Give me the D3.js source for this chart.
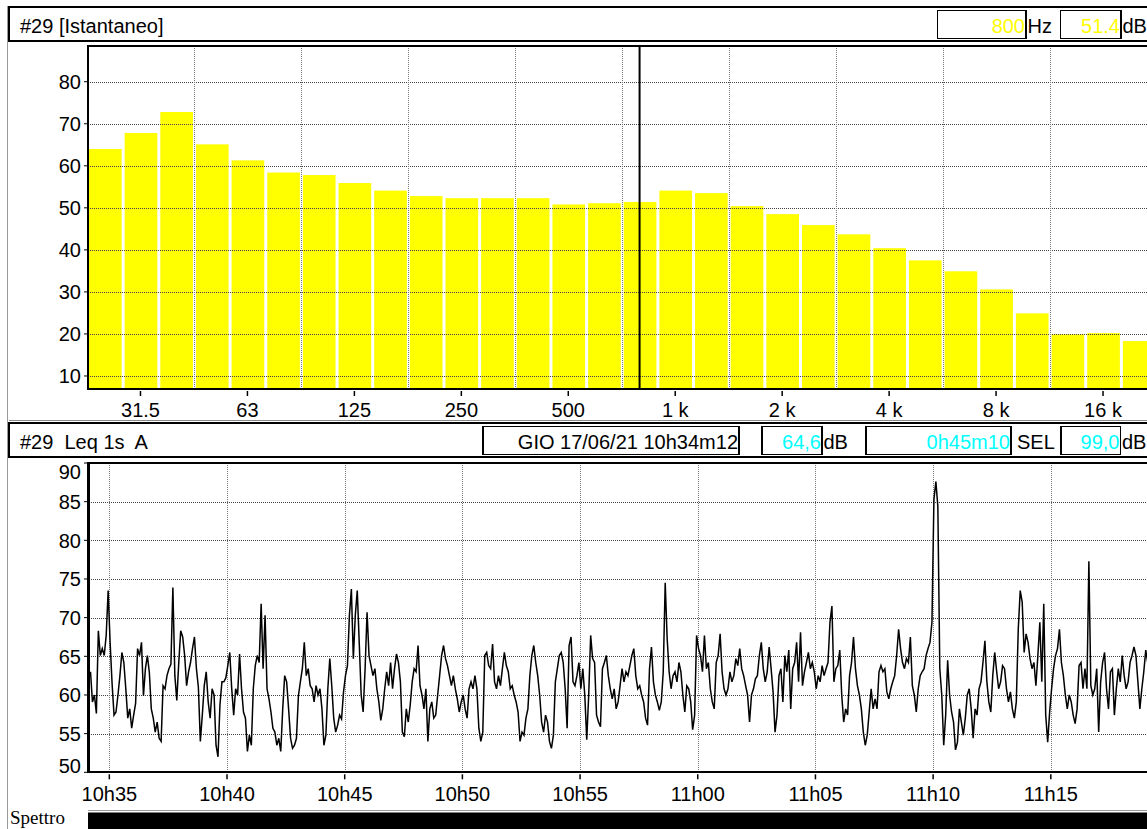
<!DOCTYPE html>
<html>
<head>
<meta charset="utf-8">
<script src="https://cdn.jsdelivr.net/npm/d3@7"></script>
<style>
  html, body { margin: 0; padding: 0; background: #fff; overflow: hidden; }
  svg { display: block; font-family: Arial, "Liberation Sans", sans-serif; }
  .grid line { stroke: #444; stroke-dasharray: 1 1; shape-rendering: crispEdges; }
  .frame { stroke: #000; fill: none; shape-rendering: crispEdges; }
</style>
</head>
<body>
<svg id="chart" width="1147" height="829"></svg>
<script>
// --- spectrum (1/3 octave, instantaneous) ---
const bandLabels = ["25", "31.5", "40", "50", "63", "80", "100", "125", "160", "200",
  "250", "315", "400", "500", "630", "800", "1 k", "1.25 k", "1.6 k", "2 k",
  "2.5 k", "3.15 k", "4 k", "5 k", "6.3 k", "8 k", "10 k", "12.5 k", "16 k", "20 k"];
const bandLevels = [64.0, 67.8, 72.8, 65.1, 61.3, 58.4, 57.8, 55.9, 54.1, 52.8,
  52.3, 52.3, 52.3, 50.8, 51.1, 51.4, 54.1, 53.5, 50.4, 48.5,
  45.9, 43.7, 40.4, 37.5, 34.9, 30.6, 24.9, 19.9, 20.2, 18.3];
const spectrumTicks = ["31.5", "63", "125", "250", "500", "1 k", "2 k", "4 k", "8 k", "16 k"];
const spectrumYTicks = [10, 20, 30, 40, 50, 60, 70, 80];
const cursorBand = "800";
const cursorLevel = "51.4";

// --- Leq 1s A time history (read every 5 s) ---
const startTime = new Date(2021, 5, 17, 10, 34, 12);
const durationSec = 2710;
const stepSec = 5;
const leqYTicks = [50, 55, 60, 65, 70, 75, 80, 85, 90];
const leqPart1 = [
  63.0, 59.1, 60.0, 57.6, 68.3, 65.1, 66.0, 65.1, 67.7, 73.5, 66.8, 61.5, 57.4, 57.8, 60.0, 62.5, 65.5,
  64.2, 60.8, 57.0, 58.2, 55.7, 57.4, 58.9, 66.0, 65.1, 66.8, 59.9, 63.4, 65.1, 62.9, 58.2, 57.0, 55.2,
  56.5, 54.4, 54.0, 61.2, 60.8, 62.5, 63.4, 64.0, 73.9, 62.5, 59.3, 64.2, 68.3, 67.5, 65.1, 61.2, 63.0,
  64.2, 66.0, 67.5, 63.4, 61.0, 54.0, 57.4, 61.2, 63.0, 59.1, 57.0, 60.8, 60.0, 53.5, 52.0, 58.7, 61.7,
  61.7, 62.2, 63.8, 65.5, 60.8, 57.4, 60.8, 60.0, 65.3, 60.8, 57.8, 57.0, 52.7, 54.8, 53.5, 60.8, 63.8,
  65.1, 64.2, 71.8, 63.4, 70.3, 60.8, 59.5, 57.8, 55.7, 55.2, 53.5, 54.4, 52.7, 58.2, 62.5, 61.7, 58.2,
  54.4, 53.1, 53.5, 54.4, 59.9, 61.7, 63.4, 66.8, 62.5, 63.4, 61.2, 60.8, 59.1, 61.2, 60.0, 60.8, 58.2,
  53.5, 54.8, 60.8, 64.7, 61.2, 57.0, 55.2, 56.1, 57.4, 56.9, 60.4, 62.5, 63.8, 70.3, 73.7, 64.7, 70.3,
  73.5, 66.8, 60.0, 57.8, 63.4, 70.7, 65.1, 63.8, 62.5, 63.4, 60.8, 59.1, 56.7, 58.2, 60.8, 63.0, 61.2,
  64.2, 60.8, 63.4, 65.3, 64.2, 61.7, 55.2, 54.6, 58.2, 56.5, 58.7, 61.7, 63.4, 63.0, 66.4, 61.2, 60.0,
  58.2, 60.8, 54.0, 58.2, 59.1, 57.0, 57.4, 60.0, 62.5
];
const leqPart2 = [
  65.1, 66.4, 64.7, 63.8, 62.5, 61.2, 62.5, 60.8, 59.5, 57.8, 59.1, 60.0, 58.2, 57.0, 60.8, 61.7, 60.8,
  62.5, 60.8, 55.7, 54.0, 55.2, 65.1, 65.5, 63.8, 63.4, 66.6, 61.7, 60.8, 62.5, 61.2, 63.4, 65.5, 63.8,
  63.0, 60.8, 61.2, 60.0, 59.1, 57.8, 54.0, 55.2, 54.8, 57.0, 58.2, 62.5, 65.1, 66.4, 64.2, 62.5, 60.0,
  56.5, 55.2, 57.4, 56.5, 54.0, 53.1, 54.8, 61.7, 63.4, 65.1, 65.5, 64.2, 60.8, 55.7, 66.4, 67.5, 61.7,
  61.2, 62.5, 64.2, 60.8, 63.4, 60.0, 54.2, 60.0, 67.7, 64.7, 64.2, 57.4, 56.5, 55.9, 63.4, 64.2, 65.1,
  62.5, 60.8, 59.5, 60.8, 58.2, 59.1, 61.2, 63.4, 61.7, 63.0, 62.5, 63.8, 65.1, 66.0, 62.5, 60.8, 61.2,
  60.0, 59.1, 57.0, 56.1, 63.4, 66.2, 61.7, 60.0, 59.1, 58.0, 59.1, 63.0, 74.5, 67.3, 63.0, 60.8, 62.5,
  63.0, 61.7, 64.2, 63.0, 60.0, 57.8, 61.2, 60.8, 59.1, 55.5, 57.4, 67.7, 66.0, 65.1, 63.0, 67.7, 63.4,
  64.2, 60.8, 59.1, 58.2, 64.2, 65.1, 67.9, 63.0, 60.8, 60.0, 60.8, 63.0, 61.7, 62.5, 64.7, 63.8, 66.0,
  63.4, 62.5, 61.2, 60.0, 56.5, 60.0, 60.8, 62.1, 62.5, 65.1, 66.8, 63.4, 61.7, 63.0, 66.2, 63.4, 60.4,
  55.2, 57.4, 62.5, 63.4, 59.1, 65.1, 63.0, 65.8
];
const leqPart3 = [
  58.2, 63.4, 64.2, 66.8, 61.7, 68.1, 61.2, 63.0, 64.2, 65.5, 63.4, 64.2, 63.0, 60.8, 62.5, 61.7, 63.8,
  62.5, 63.4, 64.2, 69.4, 71.5, 61.7, 63.4, 63.8, 65.8, 60.0, 56.5, 58.2, 57.4, 62.5, 64.2, 67.5, 63.4,
  61.2, 60.0, 58.2, 55.2, 53.5, 54.8, 57.8, 60.8, 58.2, 59.5, 58.2, 63.0, 63.8, 63.0, 63.4, 60.4, 59.5,
  60.8, 61.7, 62.5, 65.1, 68.5, 66.0, 64.2, 63.4, 64.7, 64.2, 67.5, 61.2, 60.0, 57.8, 60.8, 62.5, 63.0,
  63.4, 65.1, 66.0, 66.8, 69.4, 85.3, 87.6, 84.4, 63.4, 60.0, 53.5, 57.4, 64.5, 60.0, 57.8, 56.5, 52.9,
  53.9, 58.2, 56.5, 54.8, 57.0, 60.0, 60.8, 58.2, 54.4, 58.2, 57.4, 60.8, 61.7, 64.2, 67.0, 61.7, 59.1,
  57.8, 62.5, 65.5, 63.0, 60.8, 61.7, 63.8, 63.4, 60.8, 59.1, 60.4, 58.2, 57.0, 59.1, 68.5, 73.5, 72.0,
  65.5, 67.9, 66.8, 64.7, 63.4, 64.2, 61.2, 65.1, 69.4, 61.7, 71.8, 57.4, 53.9, 57.8, 60.8, 63.4, 65.1,
  66.0, 68.5, 64.2, 62.5, 60.0, 58.2, 60.0, 59.1, 57.4, 56.3, 58.2, 63.8, 64.2, 60.8, 63.4, 60.8, 77.3,
  61.2, 60.0, 60.8, 63.4, 55.2, 61.7, 64.2, 65.5, 60.8, 58.2, 63.0, 63.4, 57.4, 60.8, 63.4, 61.7, 65.1,
  62.5, 60.8, 61.7, 64.2, 65.1, 66.2, 65.1, 61.7, 58.2, 60.8, 63.0, 65.8, 64.2
];

// header read-outs
const startLabel = "GIO 17/06/21 10h34m12";
const leqTotal = "64,6";
const durationLabel = "0h45m10";
const selValue = "99,0";

const svg = d3.select("#chart");

/**
 * Header strip with a title and boxed read-outs
 */
function drawHeader(top, height, title, boxes) {
  const g = svg.append("g");
  g.append("rect").attr("class", "frame")
    .attr("x", 9).attr("y", top).attr("width", 1160).attr("height", height)
    .attr("stroke-width", 2);
  g.append("text")
    .attr("x", 20).attr("y", top + height - 8)
    .attr("font-size", 20)
    .style("white-space", "pre")
    .text(title);
  boxes.forEach(b => {
    g.append("rect").attr("class", "frame")
      .attr("x", b.x0).attr("y", top + 3.5)
      .attr("width", b.x1 - b.x0).attr("height", height - 6)
      .attr("stroke-width", 1.5);
    g.append("text")
      .attr("x", b.x1 - 1).attr("y", top + height - 8)
      .attr("text-anchor", "end")
      .attr("font-size", 20)
      .attr("fill", b.color)
      .text(b.value);
    if (b.unit) {
      g.append("text")
        .attr("x", b.x1 + (b.gap || 1.5)).attr("y", top + height - 8)
        .attr("font-size", 20)
        .text(b.unit);
    }
  });
}

// left border of the whole panel
svg.append("line")
  .attr("x1", 7.5).attr("x2", 7.5).attr("y1", 6).attr("y2", 829)
  .attr("stroke", "#999");

drawHeader(7, 34, "#29 [Istantaneo]", [
  { x0: 937.5, x1: 1026, value: cursorBand, color: "#ffff00", unit: "Hz" },
  { x0: 1060.5, x1: 1121, value: cursorLevel, color: "#ffff00", unit: "dB" }
]);

/**
 * Top panel: 1/3 octave bars
 */
function drawSpectrum() {
  const top = 46, bottom = 389, left = 88;
  const x = d3.scaleBand().domain(bandLabels).range([87, 87 + 30 * 35.65]).padding(0);
  const y = d3.scaleLinear().domain([6.9, 88.5]).range([bottom, top]);
  const g = svg.append("g");

  // bars
  g.selectAll("rect.bar")
    .data(bandLevels)
    .enter().append("rect")
    .attr("class", "bar")
    .attr("x", (d, i) => x(bandLabels[i]) + 2)
    .attr("width", x.bandwidth() - 3)
    .attr("y", d => y(d))
    .attr("height", d => bottom - 1 - y(d))
    .attr("fill", "#ffff00");

  // grid on top of the bars
  const grid = g.append("g").attr("class", "grid");
  grid.selectAll("line.h")
    .data(spectrumYTicks)
    .enter().append("line")
    .attr("x1", left).attr("x2", 1147)
    .attr("y1", d => Math.round(y(d)) + 0.5).attr("y2", d => Math.round(y(d)) + 0.5);
  const boundaries = bandLabels.filter((d, i) => i > 0 && i % 3 === 0);
  grid.selectAll("line.v")
    .data(boundaries)
    .enter().append("line")
    .attr("x1", d => Math.round(x(d)) + 0.5).attr("x2", d => Math.round(x(d)) + 0.5)
    .attr("y1", top).attr("y2", bottom)
    .style("stroke", "#777");

  // cursor
  const cx = x(cursorBand) + x.bandwidth() / 2;
  g.append("line")
    .attr("x1", cx).attr("x2", cx).attr("y1", top).attr("y2", bottom)
    .attr("stroke", "#000").attr("stroke-width", 2);

  // frame / axes
  g.append("line").attr("class", "frame").attr("stroke-width", 2)
    .attr("x1", left).attr("x2", 1147).attr("y1", top).attr("y2", top);
  g.append("line").attr("class", "frame").attr("stroke-width", 2.5)
    .attr("x1", left).attr("x2", left).attr("y1", top - 1).attr("y2", bottom + 1);
  g.append("line").attr("class", "frame").attr("stroke-width", 2)
    .attr("x1", left).attr("x2", 1147).attr("y1", bottom).attr("y2", bottom);

  // y ticks + labels
  const yt = g.selectAll("g.ytick").data(spectrumYTicks).enter().append("g")
    .attr("transform", d => `translate(0,${y(d)})`);
  yt.append("line").attr("x1", 84).attr("x2", left).attr("stroke", "#000");
  yt.append("text").attr("x", 81).attr("dy", "0.36em")
    .attr("text-anchor", "end").attr("font-size", 20).text(d => d);

  // x ticks + labels at octave centres
  const xt = g.selectAll("g.xtick").data(spectrumTicks).enter().append("g")
    .attr("transform", d => `translate(${x(d) + x.bandwidth() / 2},0)`);
  xt.append("line").attr("y1", bottom + 2).attr("y2", bottom + 7)
    .attr("stroke", "#000").attr("stroke-width", 1.5);
  xt.append("text").attr("y", 417).attr("text-anchor", "middle")
    .attr("font-size", 20).text(d => d);
}

drawSpectrum();

// separator above the second header
svg.append("line")
  .attr("x1", 9).attr("x2", 1147).attr("y1", 420.5).attr("y2", 420.5)
  .attr("stroke", "#888");

drawHeader(423, 34, "#29  Leq 1s  A", [
  { x0: 483, x1: 739, value: startLabel, color: "#000" },
  { x0: 762, x1: 822, value: leqTotal, color: "#00ffff", unit: "dB" },
  { x0: 866, x1: 1011, value: durationLabel, color: "#00ffff", unit: "SEL", gap: 6 },
  { x0: 1061, x1: 1120.5, value: selValue, color: "#00ffff", unit: "dB" }
]);

/**
 * Bottom panel: Leq 1s time history
 */
function drawTimeHistory() {
  const top = 462.5, bottom = 772.3, left = 88.5;
  const endTime = new Date(+startTime + durationSec * 1000);
  const x = d3.scaleTime().domain([startTime, endTime]).range([90.5, 1153.6]);
  const y = d3.scaleLinear().domain([50, 90]).range([bottom, 463]);
  const g = svg.append("g");

  const levels = leqPart1.concat(leqPart2, leqPart3);
  const points = levels.map((v, i) => ({ t: new Date(+startTime + i * stepSec * 1000), v }));

  const ticks = x.ticks(d3.timeMinute.every(5));
  const fmt = d3.timeFormat("%Hh%M");

  // grid
  const grid = g.append("g").attr("class", "grid");
  grid.selectAll("line.h")
    .data(leqYTicks.filter(d => d > 50 && d < 90))
    .enter().append("line")
    .attr("x1", left).attr("x2", 1147)
    .attr("y1", d => Math.round(y(d)) + 0.5).attr("y2", d => Math.round(y(d)) + 0.5);
  grid.selectAll("line.v")
    .data(ticks)
    .enter().append("line")
    .attr("x1", d => Math.round(x(d)) + 0.5).attr("x2", d => Math.round(x(d)) + 0.5)
    .attr("y1", top).attr("y2", bottom)
    .style("stroke", "#777");

  // level trace
  g.append("clipPath").attr("id", "leq-clip")
    .append("rect").attr("x", left).attr("y", top).attr("width", 1147 - left).attr("height", bottom - top);
  g.append("path")
    .datum(points)
    .attr("clip-path", "url(#leq-clip)")
    .attr("fill", "none")
    .attr("stroke", "#000")
    .attr("stroke-width", 1.5)
    .attr("stroke-linejoin", "miter")
    .attr("d", d3.line().x(d => x(d.t)).y(d => y(d.v)));

  // frame / axes
  g.append("line").attr("class", "frame").attr("stroke-width", 2)
    .attr("x1", left).attr("x2", 1147).attr("y1", top).attr("y2", top);
  g.append("line").attr("class", "frame").attr("stroke-width", 3)
    .attr("x1", left).attr("x2", left).attr("y1", top - 1).attr("y2", bottom + 1);
  g.append("line").attr("class", "frame").attr("stroke-width", 2)
    .attr("x1", left).attr("x2", 1147).attr("y1", bottom).attr("y2", bottom);

  // y ticks + labels (end labels pulled inside)
  const yt = g.selectAll("g.ytick").data(leqYTicks).enter().append("g");
  yt.append("line")
    .attr("x1", 84).attr("x2", left)
    .attr("y1", d => y(d)).attr("y2", d => y(d))
    .attr("stroke", "#000");
  yt.append("text")
    .attr("x", 81)
    .attr("y", d => Math.max(472, Math.min(766, y(d))))
    .attr("dy", "0.36em")
    .attr("text-anchor", "end").attr("font-size", 20).text(d => d);

  // time ticks + labels
  const xt = g.selectAll("g.xtick").data(ticks).enter().append("g")
    .attr("transform", d => `translate(${x(d)},0)`);
  xt.append("line").attr("y1", bottom + 2).attr("y2", bottom + 7)
    .attr("stroke", "#000").attr("stroke-width", 1.5);
  xt.append("text").attr("y", 801).attr("text-anchor", "middle")
    .attr("font-size", 20).text(d => fmt(d));
}

drawTimeHistory();

// spectrogram strip (cut at the bottom of the picture)
svg.append("line")
  .attr("x1", 88).attr("x2", 1147).attr("y1", 810.5).attr("y2", 810.5)
  .attr("stroke", "#999");
svg.append("rect")
  .attr("x", 88).attr("y", 812.5).attr("width", 1147 - 88).attr("height", 20)
  .attr("fill", "#000");
svg.append("text")
  .attr("x", 10).attr("y", 824)
  .attr("font-family", "'Liberation Serif', 'Times New Roman', serif")
  .attr("font-size", 19)
  .text("Spettro");
</script>
</body>
</html>
